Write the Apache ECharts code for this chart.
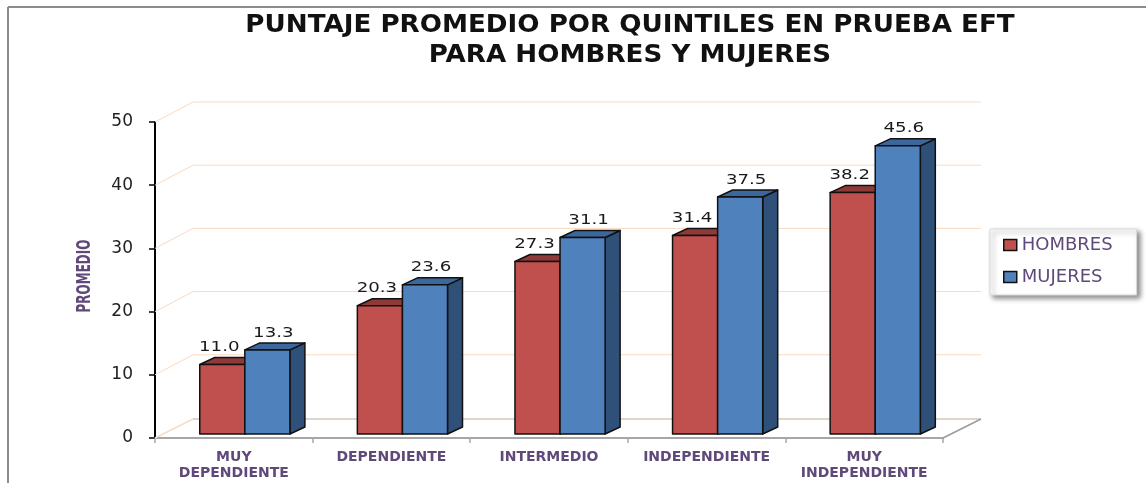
<!DOCTYPE html>
<html>
<head>
<meta charset="utf-8">
<script src="https://cdn.jsdelivr.net/npm/echarts@6/dist/echarts.min.js"></script>
<style>
html,body{margin:0;padding:0;background:#fff;}
#chart{width:1146px;height:483px;}
</style>
</head>
<body>
<div id="chart"></div>
<script>
const titleLines = ['PUNTAJE PROMEDIO POR QUINTILES EN PRUEBA EFT', 'PARA HOMBRES Y MUJERES'];
const yAxisTitle = 'PROMEDIO';
const categories = ['MUY\nDEPENDIENTE', 'DEPENDIENTE', 'INTERMEDIO', 'INDEPENDIENTE', 'MUY\nINDEPENDIENTE'];
const seriesNames = ['HOMBRES', 'MUJERES'];
const hombres = [11.0, 20.3, 27.3, 31.4, 38.2];
const mujeres = [13.3, 23.6, 31.1, 37.5, 45.6];
const yTicks = [0, 10, 20, 30, 40, 50];

// 3D styling constants
const WALL_DX = 38, WALL_DY = -19;
const BAR_DX = 15, BAR_DY = -7, BAR_BACK = -4;
const PURPLE = '#5f497a';

const colorsFront = ['#c0504d', '#4f81bd'];
const colorsTop = ['#8e3a38', '#3c679c'];
const colorsSide = ['#7f302e', '#2f5078'];

const chart = echarts.init(document.getElementById('chart'));

function wallRender(params, api) {
  const v = api.value(1);
  const p = api.coord([0, v]);
  const band = api.size([1, 0])[0];
  const x0 = p[0] - band / 2;
  const xEnd = x0 + band * categories.length;
  const y = p[1];
  const children = [];
  const peach = '#fbd9bf';
  if (v === 0) {
    children.push({type: 'line', shape: {x1: x0, y1: y, x2: x0 + WALL_DX, y2: y + WALL_DY}, style: {stroke: '#f3dcc8', lineWidth: 1.5}});
    children.push({type: 'line', shape: {x1: x0 + WALL_DX, y1: y + WALL_DY, x2: xEnd + WALL_DX, y2: y + WALL_DY}, style: {stroke: '#ddd6cf', lineWidth: 2}});
    children.push({type: 'line', shape: {x1: xEnd, y1: y, x2: xEnd + WALL_DX, y2: y + WALL_DY}, style: {stroke: '#9a9a9a', lineWidth: 1.5}});
  } else {
    children.push({type: 'line', shape: {x1: x0, y1: y, x2: x0 + WALL_DX, y2: y + WALL_DY - 1}, style: {stroke: peach, lineWidth: 1}});
    children.push({type: 'line', shape: {x1: x0 + WALL_DX, y1: y + WALL_DY - 1, x2: xEnd + WALL_DX, y2: y + WALL_DY - 1}, style: {stroke: peach, lineWidth: 1}});
  }
  return {type: 'group', children: children};
}

function makeBarRender(si) {
  return function (params, api) {
    const idx = api.value(0);
    const v = api.value(1);
    const band = api.size([1, 0])[0];
    const c = api.coord([idx, v]);
    const b = api.coord([idx, 0]);
    const bw = band * 0.286;
    const shift = band * 0.07;
    const left = c[0] + shift + (si === 0 ? -bw : 0);
    const right = left + bw;
    const top = c[1] + BAR_BACK;
    const base = b[1] + BAR_BACK;
    const stroke = {stroke: '#111', lineWidth: 1.5, lineJoin: 'round'};
    const children = [
      {type: 'polygon', shape: {points: [[right, base], [right + BAR_DX, base + BAR_DY], [right + BAR_DX, top + BAR_DY], [right, top]]},
        style: Object.assign({fill: colorsSide[si]}, stroke)},
      {type: 'polygon', shape: {points: [[left, top], [left + BAR_DX, top + BAR_DY], [right + BAR_DX, top + BAR_DY], [right, top]]},
        style: Object.assign({fill: colorsTop[si]}, stroke)},
      {type: 'rect', shape: {x: left, y: top, width: bw, height: base - top},
        style: Object.assign({fill: colorsFront[si]}, stroke)},
      {type: 'text', x: (left + right) / 2 + (si === 0 ? -3 : 6), y: top - 17, scaleX: 1.3, scaleY: 1,
        style: {text: v.toFixed(1), fill: '#1a1a1a', fontSize: 14, fontFamily: 'DejaVu Sans', align: 'center', verticalAlign: 'middle'}}
    ];
    return {type: 'group', children: children};
  };
}

const option = {
  animation: false,
  backgroundColor: '#fff',
  graphic: [
    {type: 'line', shape: {x1: 8, y1: 7, x2: 1146, y2: 7}, style: {stroke: '#8c8c8c', lineWidth: 2}},
    {type: 'line', shape: {x1: 8, y1: 7, x2: 8, y2: 483}, style: {stroke: '#8c8c8c', lineWidth: 2}},
    {type: 'text', x: 630, y: 26, scaleX: 1.09, scaleY: 1, style: {text: titleLines[0], fill: '#111', fontSize: 24, fontWeight: 'bold', fontFamily: 'DejaVu Sans', align: 'center', verticalAlign: 'middle'}},
    {type: 'text', x: 630, y: 56, scaleX: 1.09, scaleY: 1, style: {text: titleLines[1], fill: '#111', fontSize: 24, fontWeight: 'bold', fontFamily: 'DejaVu Sans', align: 'center', verticalAlign: 'middle'}},
    {type: 'text', x: 85, y: 276, rotation: Math.PI / 2, scaleX: 0.74, scaleY: 1.1,
      style: {text: yAxisTitle, fill: PURPLE, fontSize: 18, fontWeight: 'bold', fontFamily: 'DejaVu Sans Condensed', align: 'center', verticalAlign: 'middle'}}
  ],
  legend: {
    orient: 'vertical',
    left: 990, top: 229,
    padding: [6, 24, 8, 13],
    itemGap: 12,
    itemWidth: 13, itemHeight: 11,
    icon: 'rect',
    backgroundColor: '#fff',
    borderColor: '#d9d9d9', borderWidth: 1,
    shadowColor: 'rgba(0,0,0,0.45)', shadowBlur: 5, shadowOffsetX: 3, shadowOffsetY: 3,
    textStyle: {color: PURPLE, fontSize: 18, fontFamily: 'DejaVu Sans', lineHeight: 20},
    data: [
      {name: seriesNames[0], itemStyle: {color: colorsFront[0], borderColor: '#111', borderWidth: 1.5}},
      {name: seriesNames[1], itemStyle: {color: colorsFront[1], borderColor: '#111', borderWidth: 1.5}}
    ]
  },
  grid: {left: 155, right: 203, top: 122, bottom: 45, containLabel: false},
  xAxis: {
    type: 'category',
    data: categories,
    axisLine: {show: true, lineStyle: {color: '#a6a6a6', width: 2}},
    axisTick: {show: true, length: 5, lineStyle: {color: '#a6a6a6', width: 1.5}},
    axisLabel: {interval: 0, color: PURPLE, fontWeight: 'bold', fontFamily: 'DejaVu Sans', fontSize: 14, lineHeight: 16, margin: 11},
    splitLine: {show: false}
  },
  yAxis: {
    type: 'value',
    min: 0, max: 50, interval: 10,
    axisLine: {show: true, lineStyle: {color: '#000', width: 2}},
    axisTick: {show: true, length: 6, lineStyle: {color: '#000', width: 1.5}},
    axisLabel: {color: '#222', fontSize: 17, fontFamily: 'DejaVu Sans', margin: 22},
    splitLine: {show: false}
  },
  series: [
    {type: 'custom', name: 'wall', silent: true, z: 1, renderItem: wallRender,
      data: yTicks.map(function (v) { return [0, v]; })},
    {type: 'custom', name: seriesNames[0], z: 2, itemStyle: {color: colorsFront[0]}, renderItem: makeBarRender(0),
      data: hombres.map(function (v, i) { return [i, v]; })},
    {type: 'custom', name: seriesNames[1], z: 3, itemStyle: {color: colorsFront[1]}, renderItem: makeBarRender(1),
      data: mujeres.map(function (v, i) { return [i, v]; })}
  ]
};
chart.setOption(option);
</script>
</body>
</html>
